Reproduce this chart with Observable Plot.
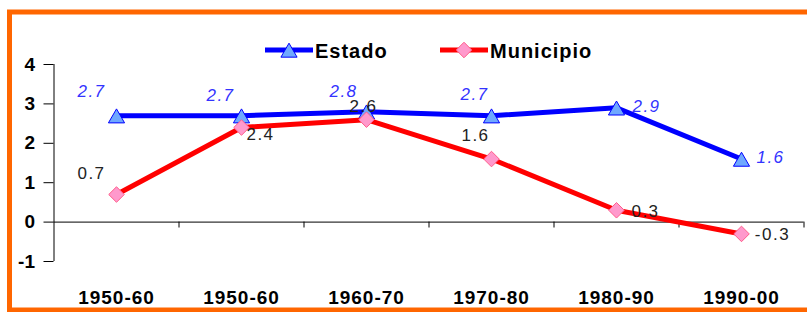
<!DOCTYPE html>
<html>
<head>
<meta charset="utf-8">
<script src="https://cdn.jsdelivr.net/npm/d3@7"></script>
<script src="https://cdn.jsdelivr.net/npm/@observablehq/plot@0.6"></script>
<style>
  html, body { margin: 0; padding: 0; background: #fff; }
  svg g[aria-label="text"] text { letter-spacing: 1.5px; }
  svg g[aria-label="x-axis tick label"] text { letter-spacing: 1px; }
</style>
</head>
<body>
<div id="chart"></div>
<script>
// ---- data ----
const categories = ["1950-60", "1950-60", "1960-70", "1970-80", "1980-90", "1990-00"];
const estado = [2.7, 2.7, 2.8, 2.7, 2.9, 1.6];
const municipio = [0.7, 2.4, 2.6, 1.6, 0.3, -0.3];
const yTicks = [-1, 0, 1, 2, 3, 4];
const seriesNames = ["Estado", "Municipio"];

// label placement (pixel offsets from each point), like the spreadsheet's label positions
const estadoLabelDx = [-25, -21, -23, -17, 30, 29];
const estadoLabelDy = [-24, -20, -20, -21, -1, -2];
const municipioLabelDx = [-25, 19, -3, -16, 29, 31];
const municipioLabelDy = [-21, 7, -13, -24, 1, 1];

const FONT = "'Liberation Sans', Arial, Helvetica, sans-serif";
const BLUE = "#0000ff", RED = "#ff0000";
const TRI_FILL = "#6fa8ff", DIA_FILL = "#ff99cc", DIA_STROKE = "#ff5c8a";

const idx = categories.map((_, i) => i);
const estadoRows = idx.map(i => ({i, cat: categories[i], value: estado[i]}));
const municipioRows = idx.map(i => ({i, cat: categories[i], value: municipio[i]}));
const boundaries = idx.map(i => i + 0.5);

const fmt = v => v.toFixed(1);

const labelMarks = [];
estadoRows.forEach((d, k) => {
  labelMarks.push(Plot.text([d], {
    x: "i", y: "value", text: r => fmt(r.value),
    dx: estadoLabelDx[k], dy: estadoLabelDy[k],
    fill: "#3333ff", fontStyle: "italic", fontSize: 17, fontFamily: FONT,
    lineAnchor: "middle", textAnchor: "middle"
  }));
});
municipioRows.forEach((d, k) => {
  labelMarks.push(Plot.text([d], {
    x: "i", y: "value", text: r => fmt(r.value),
    dx: municipioLabelDx[k], dy: municipioLabelDy[k],
    fill: "#222", fontSize: 17, fontFamily: FONT,
    lineAnchor: "middle", textAnchor: "middle"
  }));
});

const plot = Plot.plot({
  width: 807,
  height: 312,
  marginLeft: 53.5,
  marginRight: 3.5,
  marginTop: 64,
  marginBottom: 51,
  style: {fontFamily: FONT, background: "#fff", overflow: "visible"},
  x: {domain: [-0.5, categories.length - 0.5], axis: null},
  y: {domain: [-1, 4], axis: null},
  marks: [
    // y axis
    Plot.ruleX([-0.5], {y1: -1, y2: 4, stroke: "#000", strokeWidth: 1}),
    Plot.axisY({ticks: yTicks, tickSize: 10, tickPadding: 9, fontSize: 19, fontWeight: "bold",
      fontFamily: FONT, stroke: "#000", fill: "#000", label: null, tickFormat: d => String(d)}),
    // zero line + category tick marks
    Plot.ruleY([0], {stroke: "#000", strokeWidth: 1}),
    Plot.ruleX(boundaries, {y1: 0, y2: -0.15, stroke: "#000", strokeWidth: 1}),
    // category labels
    Plot.axisX({ticks: idx, tickSize: 0, tickPadding: 29, tickFormat: i => categories[i],
      fontSize: 19, fontWeight: "bold", fontFamily: FONT, fill: "#000", label: null}),
    // series
    Plot.line(estadoRows, {x: "i", y: "value", stroke: BLUE, strokeWidth: 5, curve: "linear"}),
    Plot.dot(estadoRows, {x: "i", y: "value", symbol: "triangle", r: 6, dy: 2.5,
      fill: TRI_FILL, stroke: BLUE, strokeWidth: 1}),
    Plot.line(municipioRows, {x: "i", y: "value", stroke: RED, strokeWidth: 5, curve: "linear"}),
    Plot.dot(municipioRows, {x: "i", y: "value", symbol: "diamond2", r: 7,
      fill: DIA_FILL, stroke: DIA_STROKE, strokeWidth: 1}),
    ...labelMarks
  ]
});

document.getElementById("chart").appendChild(plot);

// ---- frame border and legend ----
const svg = d3.select(plot);
svg.insert("rect", ":first-child")
  .attr("x", 9.5).attr("y", 12).attr("width", 820).attr("height", 298)
  .attr("fill", "none").attr("stroke", "#ff6600").attr("stroke-width", 5);

const legendItems = [
  {name: seriesNames[0], color: BLUE, symbol: d3.symbolTriangle, size: Math.PI * 36, fill: TRI_FILL, stroke: BLUE, x: 265, dy: 2.5},
  {name: seriesNames[1], color: RED, symbol: d3.symbolDiamond2, size: Math.PI * 49, fill: DIA_FILL, stroke: DIA_STROKE, x: 440, dy: 0}
];
const lg = svg.append("g").attr("class", "legend");
legendItems.forEach(it => {
  const g = lg.append("g").attr("transform", `translate(${it.x},50)`);
  g.append("line").attr("x1", 0).attr("x2", 48).attr("y1", 0).attr("y2", 0)
    .attr("stroke", it.color).attr("stroke-width", 5);
  g.append("path").attr("d", d3.symbol(it.symbol, it.size)())
    .attr("transform", `translate(24,${it.dy})`)
    .attr("fill", it.fill).attr("stroke", it.stroke).attr("stroke-width", 1);
  g.append("text").attr("x", 50).attr("y", 8)
    .attr("text-anchor", "start")
    .attr("font-family", FONT).attr("font-size", 20).attr("font-weight", "bold")
    .attr("letter-spacing", 1).attr("fill", "#000").text(it.name);
});
</script>
</body>
</html>
